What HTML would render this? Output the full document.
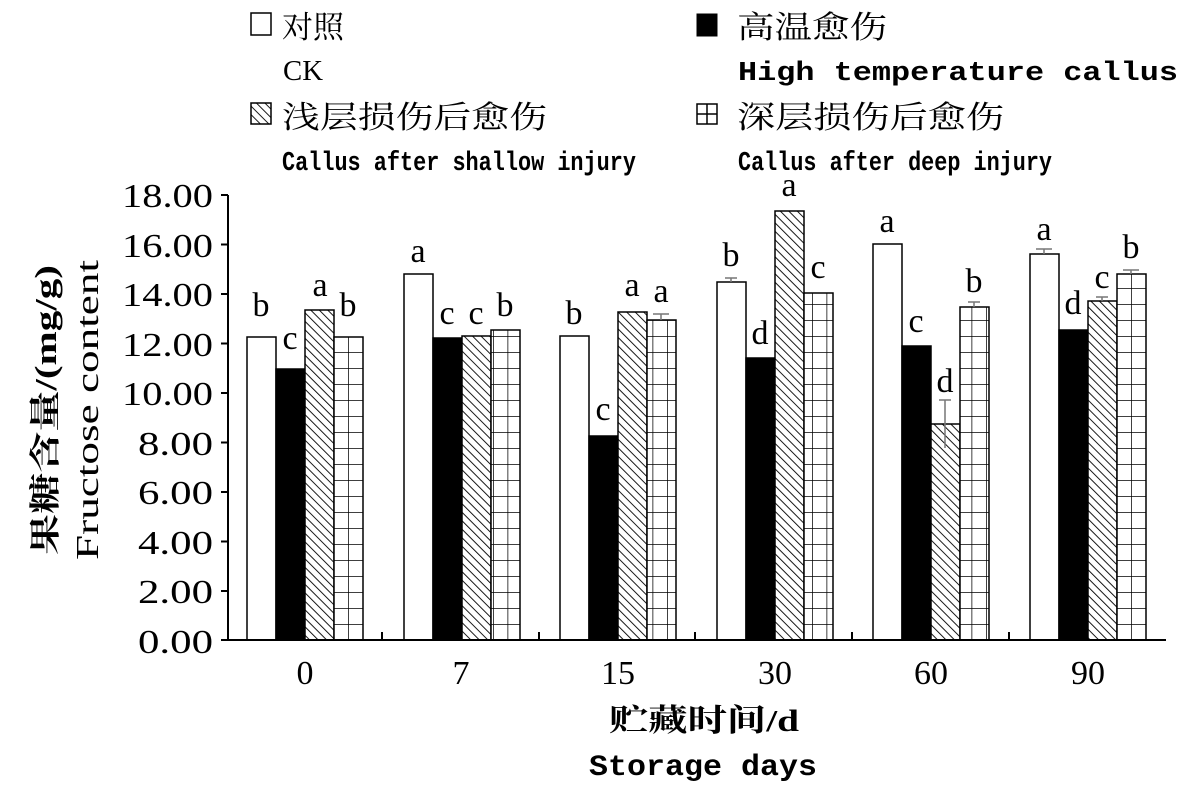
<!DOCTYPE html>
<html><head><meta charset="utf-8"><style>
html,body{margin:0;padding:0;background:#fff;}
svg{display:block;}
.cn{font-family:"Liberation Serif","Noto Serif CJK SC","Noto Sans CJK SC",serif;font-size:31px;}
.en{font-family:"Liberation Mono",monospace;font-size:27px;}
.tk{font-family:"Liberation Serif",serif;font-size:34px;}
.lt{font-family:"Liberation Serif",serif;font-size:34px;text-anchor:middle;}
</style></head><body>
<svg width="1181" height="810" viewBox="0 0 1181 810" xmlns="http://www.w3.org/2000/svg">
<defs>
<pattern id="h" patternUnits="userSpaceOnUse" width="6" height="6" patternTransform="rotate(-45)">
<rect width="6" height="6" fill="#fff"/><line x1="0" y1="0" x2="0" y2="6" stroke="#000" stroke-width="1.8"/></pattern>
<pattern id="g" patternUnits="userSpaceOnUse" width="14.5" height="16">
<rect width="14.5" height="16" fill="#fff"/><path d="M0 0H14.5M0 0V16" stroke="#000" stroke-width="1.5" fill="none"/></pattern>
</defs>
<!-- legend -->
<rect x="251" y="13" width="20" height="22" fill="#fff" stroke="#000" stroke-width="1.5"/>
<text x="282" y="38" class="cn">对照</text>
<text x="283" y="80" class="en" textLength="40" lengthAdjust="spacingAndGlyphs" style="font-family:'Liberation Serif',serif;font-size:29px">CK</text>
<rect x="251" y="103" width="20" height="21" fill="url(#h)" stroke="#000" stroke-width="1.5"/>
<text x="282" y="128" class="cn" textLength="265" lengthAdjust="spacingAndGlyphs">浅层损伤后愈伤</text>
<text x="282" y="170" class="en" textLength="354" lengthAdjust="spacingAndGlyphs" style="font-weight:bold">Callus after shallow injury</text>
<rect x="697" y="14" width="20" height="22" fill="#000" stroke="#000"/>
<text x="737" y="38" class="cn" textLength="150" lengthAdjust="spacingAndGlyphs">高温愈伤</text>
<text x="738" y="80" class="en" textLength="440" lengthAdjust="spacingAndGlyphs" style="font-weight:bold">High temperature callus</text>
<rect x="697" y="104" width="20" height="20" fill="#fff" stroke="#000" stroke-width="1.5"/>
<path d="M707 104V124M697 114H717" stroke="#000" stroke-width="1.5"/>
<text x="737" y="128" class="cn" textLength="267" lengthAdjust="spacingAndGlyphs">深层损伤后愈伤</text>
<text x="738" y="170" class="en" textLength="314" lengthAdjust="spacingAndGlyphs" style="font-weight:bold">Callus after deep injury</text>
<!-- y axis labels -->
<g class="tk" text-anchor="end">
<text x="213" y="207" textLength="91" lengthAdjust="spacingAndGlyphs">18.00</text><text x="213" y="257" textLength="91" lengthAdjust="spacingAndGlyphs">16.00</text><text x="213" y="306" textLength="91" lengthAdjust="spacingAndGlyphs">14.00</text>
<text x="213" y="356" textLength="91" lengthAdjust="spacingAndGlyphs">12.00</text><text x="213" y="405" textLength="91" lengthAdjust="spacingAndGlyphs">10.00</text><text x="213" y="455" textLength="75" lengthAdjust="spacingAndGlyphs">8.00</text>
<text x="213" y="504" textLength="75" lengthAdjust="spacingAndGlyphs">6.00</text><text x="213" y="554" textLength="75" lengthAdjust="spacingAndGlyphs">4.00</text><text x="213" y="603" textLength="75" lengthAdjust="spacingAndGlyphs">2.00</text>
<text x="213" y="653" textLength="75" lengthAdjust="spacingAndGlyphs">0.00</text></g>
<text transform="translate(56,410) rotate(-90)" class="cn" text-anchor="middle" textLength="290" lengthAdjust="spacingAndGlyphs" style="font-weight:bold">果糖含量/(mg/g)</text>
<text transform="translate(98,410) rotate(-90)" text-anchor="middle" textLength="300" lengthAdjust="spacingAndGlyphs" style="font-family:'Liberation Serif',serif;font-size:32px">Fructose content</text>
<!-- bars -->
<g stroke="#000" stroke-width="1.5">
<rect x="247" y="337" width="29" height="303" fill="#fff"/><rect x="276" y="369" width="29" height="271" fill="#000"/><rect x="305" y="310" width="29" height="330" fill="url(#h)"/><rect x="334" y="337" width="29" height="303" fill="url(#g)"/>
<rect x="404" y="274" width="29" height="366" fill="#fff"/><rect x="433" y="338" width="29" height="302" fill="#000"/><rect x="462" y="336" width="29" height="304" fill="url(#h)"/><rect x="491" y="330" width="29" height="310" fill="url(#g)"/>
<rect x="560" y="336" width="29" height="304" fill="#fff"/><rect x="589" y="436" width="29" height="204" fill="#000"/><rect x="618" y="312" width="29" height="328" fill="url(#h)"/><rect x="647" y="320" width="29" height="320" fill="url(#g)"/>
<rect x="717" y="282" width="29" height="358" fill="#fff"/><rect x="746" y="358" width="29" height="282" fill="#000"/><rect x="775" y="211" width="29" height="429" fill="url(#h)"/><rect x="804" y="293" width="29" height="347" fill="url(#g)"/>
<rect x="873" y="244" width="29" height="396" fill="#fff"/><rect x="902" y="346" width="29" height="294" fill="#000"/><rect x="931" y="424" width="29" height="216" fill="url(#h)"/><rect x="960" y="307" width="29" height="333" fill="url(#g)"/>
<rect x="1030" y="254" width="29" height="386" fill="#fff"/><rect x="1059" y="330" width="29" height="310" fill="#000"/><rect x="1088" y="301" width="29" height="339" fill="url(#h)"/><rect x="1117" y="274" width="29" height="366" fill="url(#g)"/>
</g>
<!-- error bars -->
<g stroke="#777" stroke-width="1.5">
<path d="M945 400V448M939 400H951M1044 249V254M1036 249H1052M1131 270V274M1123 270H1139M661 314V320M653 314H669M974 302V307M968 302H980M1102 297V301M1096 297H1108M731 278V282M725 278H737"/>
</g>
<!-- axes -->
<path d="M228 195V640H1166M221 195H228M221 244.5H228M221 294H228M221 343.5H228M221 393H228M221 442.5H228M221 492H228M221 541.5H228M221 591H228M221 640H228M382 632V640M539 632V640M695 632V640M852 632V640M1009 632V640" stroke="#000" stroke-width="2" fill="none"/>
<!-- letters -->
<g class="lt">
<text x="261" y="316">b</text><text x="290" y="349">c</text><text x="320" y="296">a</text><text x="348" y="316">b</text>
<text x="418" y="262">a</text><text x="447" y="324">c</text><text x="476" y="324">c</text><text x="505" y="316">b</text>
<text x="574" y="324">b</text><text x="603" y="420">c</text><text x="632" y="296">a</text><text x="661" y="302">a</text>
<text x="731" y="266">b</text><text x="760" y="344">d</text><text x="789" y="196">a</text><text x="818" y="278">c</text>
<text x="887" y="232">a</text><text x="916" y="332">c</text><text x="945" y="392">d</text><text x="974" y="292">b</text>
<text x="1044" y="240">a</text><text x="1073" y="314">d</text><text x="1102" y="288">c</text><text x="1131" y="258">b</text>
</g>
<!-- x ticks -->
<g class="tk" text-anchor="middle">
<text x="305" y="684">0</text><text x="461" y="684">7</text><text x="618" y="684">15</text>
<text x="775" y="684">30</text><text x="931" y="684">60</text><text x="1088" y="684">90</text></g>
<text x="704" y="731" class="cn" text-anchor="middle" textLength="190" lengthAdjust="spacingAndGlyphs" style="font-weight:bold">贮藏时间/d</text>
<text x="703" y="775" class="en" text-anchor="middle" textLength="228" lengthAdjust="spacingAndGlyphs" style="font-size:30px;font-weight:bold">Storage days</text>
</svg>
</body></html>
